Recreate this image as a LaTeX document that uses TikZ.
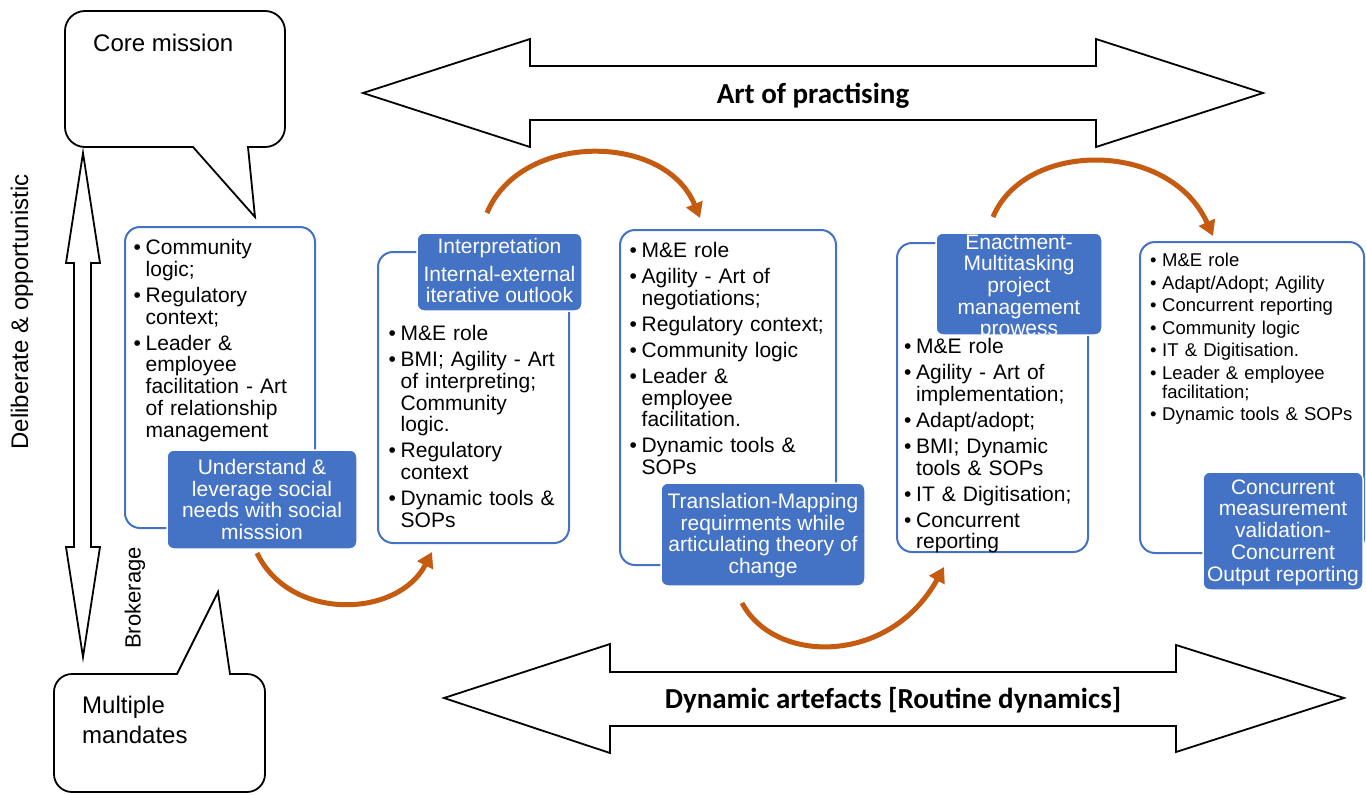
\documentclass[tikz,border=0pt]{standalone}
\usepackage{fontspec}
\setmainfont{Liberation Sans}
\newfontfamily\calib{Carlito}
\usetikzlibrary{arrows.meta}

\definecolor{smblue}{HTML}{4472C4}
\definecolor{smorange}{HTML}{C55A11}

% bullet lists with a hanging indent
\newlength\bulw \setlength\bulw{12pt}
\newlength\itemgap \setlength\itemgap{4.3pt}
\newcommand{\itemsetup}{\rightskip=0pt plus 1fil\relax\parskip=0pt\relax\parindent=0pt\relax}
\newcommand{\bfirst}[1]{\noindent\hangindent=\bulw\hangafter=1\makebox[\bulw][l]{\textbullet}#1\par}
\newcommand{\bnext}[1]{\vspace{\itemgap}\bfirst{#1}}

\tikzset{
  outbox/.style={draw=smblue, line width=2pt, rounded corners=15pt},
  labbox/.style={fill=smblue, draw=white, line width=1.5pt, rounded corners=7pt, inner sep=0pt},
  labtext/.style={text=white, align=center, inner sep=0pt, font=\fontsize{21}{21.7}\selectfont},
  itemtext/.style={anchor=north west, inner sep=0pt, text width=250pt, font=\fontsize{21}{21.7}\selectfont},
  smalltext/.style={anchor=north west, inner sep=0pt, text width=215pt, font=\fontsize{18.5}{19}\selectfont},
  blockarrow/.style={draw=black, line width=1.8pt, fill=white, line join=miter},
  callout/.style={draw=black, line width=1.8pt, fill=white},
  flow/.style={draw=smorange, line width=5pt, -{Triangle[length=15pt,width=17pt]}},
  bannertext/.style={font=\calib\bfseries\fontsize{29}{32}\selectfont, inner sep=0pt},
}

\begin{document}
\begin{tikzpicture}[x=1pt, y=-1pt]
\path[use as bounding box, fill=white] (0,0) rectangle (1366,795);

% ---- broad block arrows ----
\draw[blockarrow] (363,93) -- (530,39) -- (530,66) -- (1096,66) -- (1096,39) -- (1263,93)
  -- (1096,147) -- (1096,120) -- (530,120) -- (530,147) -- cycle;
\node[bannertext] (practising) at (813,96) {Art of practising};

\draw[blockarrow] (444,698) -- (610,644) -- (610,672) -- (1176,672) -- (1176,645) -- (1344,698)
  -- (1176,752) -- (1176,726) -- (610,726) -- (610,753) -- cycle;
\node[bannertext] (artefacts) at (893,700) {Dynamic artefacts [Routine dynamics]};

% ---- vertical double arrow ----
\draw[blockarrow] (83,153) -- (100,263) -- (91,263) -- (91,547) -- (100,547) -- (83,657)
  -- (66,547) -- (74,547) -- (74,263) -- (66,263) -- cycle;
\node[rotate=90, inner sep=0pt, font=\fontsize{24}{28}\selectfont] (delib) at (22,312) {Deliberate \& opportunistic};
\node[rotate=90, inner sep=0pt, font=\fontsize{22}{24}\selectfont] (broker) at (135,598) {Brokerage};

% ---- speech callouts ----
\draw[callout] (193,147) -- (255,217) -- (248,147) -- (265,147) arc(-90:0:20pt)
  -- (285,31) arc(0:90:20pt) -- (85,11) arc(90:180:20pt) -- (65,127) arc(180:270:20pt) -- cycle;
\node[anchor=west, inner sep=0pt, font=\fontsize{24}{29}\selectfont] (core) at (93,43) {Core mission};

\draw[callout] (177,674) -- (218,592) -- (230,674) -- (247,674) arc(90:0:18pt)
  -- (265,774) arc(0:-90:18pt) -- (72,792) arc(-90:-180:18pt) -- (54,692) arc(180:90:18pt) -- cycle;
\node[anchor=north west, inner sep=0pt, align=left, font=\fontsize{24}{30}\selectfont] (mandates) at (82,696) {Multiple\\mandates};

% ---- outlined stage boxes ----
\node[outbox, minimum width=190pt, minimum height=301pt] (b1) at (220,377.5) {};
\node[outbox, minimum width=191pt, minimum height=291pt] (b2) at (473.5,397.5) {};
\node[outbox, minimum width=216pt, minimum height=335pt] (b3) at (728,397.5) {};
\node[outbox, minimum width=191pt, minimum height=309pt] (b4) at (992.5,397.5) {};
\node[outbox, minimum width=224pt, minimum height=311pt] (b5) at (1252,397.5) {};

% ---- filled stage labels ----
\node[labbox, minimum width=190pt, minimum height=99pt] (l1) at (262,499.5) {};
\node[labbox, minimum width=165pt, minimum height=78pt] (l2) at (499.5,272) {};
\node[labbox, minimum width=204pt, minimum height=103pt] (l3) at (763,534.5) {};
\node[labbox, minimum width=166pt, minimum height=102pt] (l4) at (1019,284) {};
\node[labbox, minimum width=160pt, minimum height=118pt] (l5) at (1283,531) {};

\node[labtext] (l1t) at (l1.center) {Understand \&\\leverage social\\needs with social\\misssion};
\node[labtext] (l2t) at (499.5,270.5) {Interpretation\\[6pt]Internal-external\\iterative outlook};
\node[labtext] (l3t) at (763,535.5) {Translation-Mapping\\requirments while\\articulating theory of\\change};
\node[labtext] (l4t) at (1019,287.5) {Enactment-\\Multitasking\\project\\management\\prowess};
\node[labtext] (l5t) at (1283,532.5) {Concurrent\\measurement\\validation-\\Concurrent\\Output reporting};

% ---- bullet contents ----
\node[itemtext] (t1) at (133.5,239.4) {\itemsetup%
  \bfirst{Community\newline logic;}%
  \bnext{Regulatory\newline context;}%
  \bnext{Leader \&\newline employee\newline facilitation - Art\newline of relationship\newline management}};

\node[itemtext] (t2) at (388.5,325.4) {\itemsetup%
  \bfirst{M\&E role}%
  \bnext{BMI; Agility - Art\newline of interpreting;\newline Community\newline logic.}%
  \bnext{Regulatory\newline context}%
  \bnext{Dynamic tools \&\newline SOPs}};

\node[itemtext] (t3) at (629.5,242.4) {\itemsetup%
  \bfirst{M\&E role}%
  \bnext{Agility - Art of\newline negotiations;}%
  \bnext{Regulatory context;}%
  \bnext{Community logic}%
  \bnext{Leader \&\newline employee\newline facilitation.}%
  \bnext{Dynamic tools \&\newline SOPs}};

\node[itemtext] (t4) at (904,338.4) {\itemsetup%
  \bfirst{M\&E role}%
  \bnext{Agility - Art of\newline implementation;}%
  \bnext{Adapt/adopt;}%
  \bnext{BMI; Dynamic\newline tools \& SOPs}%
  \bnext{IT \& Digitisation;}%
  \bnext{Concurrent\newline reporting}};

\node[smalltext] (t5) at (1150,253.3) {\itemsetup\setlength\itemgap{3.5pt}%
  \bfirst{M\&E role}%
  \bnext{Adapt/Adopt; Agility}%
  \bnext{Concurrent reporting}%
  \bnext{Community logic}%
  \bnext{IT \& Digitisation.}%
  \bnext{Leader \& employee\newline facilitation;}%
  \bnext{Dynamic tools \& SOPs}};

% ---- curved flow arrows between stages ----
\coordinate (f1s) at (257,553);  \coordinate (f1e) at (432,552);
\coordinate (f2s) at (487,213);  \coordinate (f2e) at (700,218);
\coordinate (f3s) at (742,603);  \coordinate (f3e) at (944,567);
\coordinate (f4s) at (993,217);  \coordinate (f4e) at (1213,236);

\draw[flow] (f1s) .. controls (290,622) and (398,618) .. (f1e);
\draw[flow] (f2s) .. controls (520,132) and (665,132) .. (f2e);
\draw[flow] (f3s) .. controls (775,665) and (890,665) .. (f3e);
\draw[flow] (f4s) .. controls (1025,140) and (1170,140) .. (f4e);
\end{tikzpicture}
\end{document}
